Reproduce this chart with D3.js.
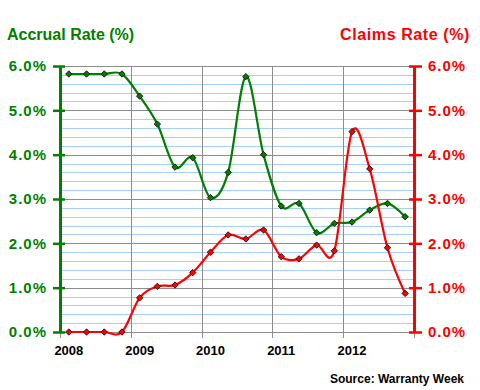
<!DOCTYPE html>
<html>
<head>
<meta charset="utf-8">
<script src="https://cdn.jsdelivr.net/npm/d3@7"></script>
<style>
  body { margin: 0; background: #fff; }
  svg { display: block; font-family: "Liberation Sans", Arial, sans-serif; font-weight: bold; }
</style>
</head>
<body>
<div id="chart"></div>
<script>
// quarterly data, 2008 Q1 .. 2012 Q4
const years = ["2008", "2009", "2010", "2011", "2012"];
const quarters = years.flatMap(y => ["Q1", "Q2", "Q3", "Q4"].map(q => y + " " + q));
const accrualRate = [5.82, 5.82, 5.82, 5.82, 5.32, 4.69, 3.72, 3.93, 3.03, 3.60,
                     5.76, 4.00, 2.84, 2.90, 2.24, 2.45, 2.48, 2.75, 2.90, 2.60];
const claimsRate = [0.0, 0.0, 0.0, 0.0, 0.77, 1.03, 1.06, 1.34, 1.80, 2.19,
                    2.10, 2.30, 1.70, 1.65, 1.96, 1.83, 4.52, 3.68, 1.90, 0.87];
const yTicks = [0, 1, 2, 3, 4, 5, 6];

const width = 480, height = 390,
    margin = { top: 66, right: 66, bottom: 58, left: 60 },
    green = "#007f00",
    red = "#ff0000";

const svg = d3.select("#chart").append("svg")
    .attr("width", width)
    .attr("height", height);

const x = d3.scaleBand()
    .domain(quarters)
    .range([margin.left, width - margin.right]);

const y = d3.scaleLinear()
    .domain([0, 6])
    .range([height - margin.bottom, margin.top]);

const yRight = y.copy();

// minor grid every 0.2%
const minor = d3.range(0, 6.01, 0.2).filter(v => Math.abs(v - Math.round(v)) > 0.01);
svg.append("g").selectAll("line")
    .data(minor)
    .join("line")
    .attr("x1", margin.left).attr("x2", width - margin.right)
    .attr("y1", d => Math.round(y(d)) + 0.5).attr("y2", d => Math.round(y(d)) + 0.5)
    .attr("stroke", "#a6cff5");

// major grid
svg.append("g").selectAll("line")
    .data(yTicks)
    .join("line")
    .attr("x1", margin.left).attr("x2", width - margin.right)
    .attr("y1", d => Math.round(y(d)) + 0.5).attr("y2", d => Math.round(y(d)) + 0.5)
    .attr("stroke", "#8c8c8c");

// vertical grid at year boundaries, with small ticks below
const yearEdges = years.map(yr => x(yr + " Q1")).concat([x.range()[1]]);
svg.append("g").selectAll("line")
    .data(yearEdges)
    .join("line")
    .attr("x1", d => Math.round(d) + 0.5).attr("x2", d => Math.round(d) + 0.5)
    .attr("y1", margin.top).attr("y2", height - margin.bottom + 6)
    .attr("stroke", "#8c8c8c");

// year labels
svg.append("g").selectAll("text")
    .data(years)
    .join("text")
    .attr("x", d => x(d + " Q1") + x.bandwidth() / 2)
    .attr("y", height - margin.bottom + 23)
    .attr("text-anchor", "middle")
    .attr("font-size", 13)
    .attr("fill", "#000")
    .text(d => d);

// left axis
const leftAxis = svg.append("g")
    .attr("transform", `translate(${margin.left},0)`)
    .call(d3.axisLeft(y).tickValues(yTicks).tickSizeInner(7).tickSizeOuter(0)
        .tickPadding(6).tickFormat(d => d.toFixed(1) + "%"));
leftAxis.select(".domain").attr("stroke", green).attr("stroke-width", 3);
leftAxis.selectAll(".tick line").attr("stroke", green).attr("stroke-width", 2.5).attr("x2", -7).attr("x1", 5);
leftAxis.selectAll(".tick text")
    .attr("fill", green).attr("font-size", 15).attr("font-family", "Liberation Sans, Arial, sans-serif")
    .attr("font-weight", "bold").attr("letter-spacing", 1);

// right axis
const rightAxis = svg.append("g")
    .attr("transform", `translate(${width - margin.right},0)`)
    .call(d3.axisRight(yRight).tickValues(yTicks).tickSizeInner(8).tickSizeOuter(0)
        .tickPadding(6).tickFormat(d => d.toFixed(1) + "%"));
rightAxis.select(".domain").attr("stroke", red).attr("stroke-width", 3);
rightAxis.selectAll(".tick line").attr("stroke", red).attr("stroke-width", 2.5).attr("x1", -5).attr("x2", 8);
rightAxis.selectAll(".tick text")
    .attr("fill", red).attr("font-size", 15).attr("font-family", "Liberation Sans, Arial, sans-serif")
    .attr("font-weight", "bold").attr("letter-spacing", 1);

// series
const cx = (d, i) => x(quarters[i]) + x.bandwidth() / 2;

function drawSeries(values, scale, color) {
    const line = d3.line()
        .x(cx)
        .y(d => scale(d))
        .curve(d3.curveCardinal.tension(0));

    svg.append("path")
        .datum(values)
        .attr("fill", "none")
        .attr("stroke", color)
        .attr("stroke-width", 2.2)
        .attr("d", line);

    svg.append("g").selectAll("path")
        .data(values)
        .join("path")
        .attr("transform", (d, i) => `translate(${cx(d, i)},${scale(d)})`)
        .attr("d", d3.symbol().type(d3.symbolDiamond2).size(26))
        .attr("fill", color)
        .attr("stroke", "#000")
        .attr("stroke-width", 0.8);
}

drawSeries(accrualRate, y, green);
drawSeries(claimsRate, yRight, red);

// titles
svg.append("text")
    .attr("x", 7).attr("y", 40)
    .attr("font-size", 16)
    .attr("fill", green)
    .text("Accrual Rate (%)");

svg.append("text")
    .attr("x", 470).attr("y", 40)
    .attr("text-anchor", "end")
    .attr("font-size", 16)
    .attr("letter-spacing", 0.6)
    .attr("fill", red)
    .text("Claims Rate (%)");

svg.append("text")
    .attr("x", 464).attr("y", 383)
    .attr("text-anchor", "end")
    .attr("font-size", 12)
    .attr("fill", "#000")
    .text("Source: Warranty Week");
</script>
</body>
</html>
